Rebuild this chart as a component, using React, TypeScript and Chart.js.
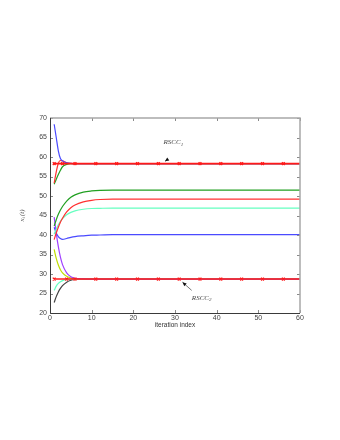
import React, { useEffect, useRef } from "react";
import { Chart, registerables } from "chart.js";
Chart.register(...registerables);

// time samples (iteration index)
const T = [1, 1.5, 2, 2.5, 3, 4, 5, 6, 8, 10, 12, 15, 20, 30, 60];

// upper group (converging to RSCC1)
const blueTop = [68.4, 65.0, 61.6, 59.6, 59.0, 58.5, 58.35, 58.3, 58.3, 58.3, 58.3, 58.3, 58.3, 58.3, 58.3];
const redTop = [53.3, 56.2, 58.4, 59.1, 59.0, 58.5, 58.35, 58.3, 58.3, 58.3, 58.3, 58.3, 58.3, 58.3, 58.3];
const greenTop = [53.0, 54.3, 55.5, 56.6, 57.5, 58.1, 58.3, 58.3, 58.3, 58.3, 58.3, 58.3, 58.3, 58.3, 58.3];

// middle group
const greenMid = [42.3, 43.9, 45.3, 46.4, 47.3, 48.7, 49.7, 50.3, 51.0, 51.3, 51.45, 51.5, 51.5, 51.5, 51.5];
const redMid = [38.8, 40.5, 42.0, 43.3, 44.3, 45.9, 47.0, 47.7, 48.5, 48.9, 49.1, 49.2, 49.2, 49.2, 49.2];
const cyanMid = [40.2, 41.5, 42.6, 43.5, 44.2, 45.2, 45.8, 46.2, 46.6, 46.8, 46.85, 46.9, 46.9, 46.9, 46.9];
const blueMid = [42.0, 40.5, 39.6, 39.1, 38.9, 39.1, 39.4, 39.6, 39.8, 39.95, 40.0, 40.1, 40.1, 40.1, 40.1];

// lower group (converging to RSCC2)
const purpleLow = [44.6, 40.5, 37.0, 34.3, 32.4, 30.3, 29.3, 28.9, 28.75, 28.7, 28.7, 28.7, 28.7, 28.7, 28.7];
const yellowLow = [36.3, 34.0, 32.3, 31.1, 30.3, 29.4, 29.0, 28.8, 28.7, 28.7, 28.7, 28.7, 28.7, 28.7, 28.7];
const cyanLow = [25.8, 26.9, 27.6, 28.0, 28.3, 28.6, 28.7, 28.7, 28.7, 28.7, 28.7, 28.7, 28.7, 28.7, 28.7];
const blackLow = [22.7, 24.2, 25.4, 26.3, 27.0, 27.9, 28.4, 28.6, 28.7, 28.7, 28.7, 28.7, 28.7, 28.7, 28.7];

// RSCC reference lines with markers
const rscc1X = [1, 3, 6, 11, 16, 21, 26, 31, 36, 41, 46, 51, 56, 60];
const rscc1Y = [58.3, 58.3, 58.3, 58.3, 58.3, 58.3, 58.3, 58.3, 58.3, 58.3, 58.3, 58.3, 58.3, 58.3];
const rscc2X = [1, 4, 6, 11, 16, 21, 26, 31, 36, 41, 46, 51, 56, 60];
const rscc2Y = [28.7, 28.7, 28.7, 28.7, 28.7, 28.7, 28.7, 28.7, 28.7, 28.7, 28.7, 28.7, 28.7, 28.7];

const xTicks = [0, 10, 20, 30, 40, 50, 60];
const yTicks = [20, 25, 30, 35, 40, 45, 50, 55, 60, 65, 70];

const xTitle = "iteration index";
const labelRSCC1 = { base: "RSCC", sub: "1", tx: 29.6, ty: 63.7, ax: 28.0, ay: 59.2, hx: 27.6, hy: 58.9 };
const labelRSCC2 = { base: "RSCC", sub: "2", tx: 36.4, ty: 23.9, ax: 34.0, ay: 25.8, hx: 31.8, hy: 27.9 };

const pts = (xs: number[], ys: number[]) => xs.map((x, i) => ({ x, y: ys[i] }));

const line = (data: number[], color: string) => ({
  data: pts(T, data),
  borderColor: color,
  backgroundColor: color,
  borderWidth: 1.2,
  pointRadius: 0,
  cubicInterpolationMode: "monotone" as const,
  fill: false,
});

const frameAndText = {
  id: "frameAndText",
  afterDraw(chart: any) {
    const { ctx, chartArea: a, scales } = chart;
    const xs = scales.x, ys = scales.y;
    ctx.save();
    // inward ticks
    ctx.strokeStyle = "#8a8a8a";
    ctx.lineWidth = 1;
    ctx.beginPath();
    xTicks.forEach((v) => {
      const px = Math.round(xs.getPixelForValue(v)) + 0.5;
      ctx.moveTo(px, a.bottom);
      ctx.lineTo(px, a.bottom - 3);
      ctx.moveTo(px, a.top);
      ctx.lineTo(px, a.top + 3);
    });
    yTicks.forEach((v) => {
      const py = Math.round(ys.getPixelForValue(v)) + 0.5;
      ctx.moveTo(a.left, py);
      ctx.lineTo(a.left + 3, py);
      ctx.moveTo(a.right, py);
      ctx.lineTo(a.right - 3, py);
    });
    ctx.stroke();
    // frame
    ctx.strokeStyle = "#a8a8a8";
    ctx.lineWidth = 1.5;
    ctx.beginPath();
    ctx.moveTo(a.left, a.top);
    ctx.lineTo(a.right, a.top);
    ctx.lineTo(a.right, a.bottom);
    ctx.stroke();
    ctx.strokeStyle = "#3a3a3a";
    ctx.lineWidth = 1;
    ctx.beginPath();
    ctx.moveTo(a.left + 0.5, a.top);
    ctx.lineTo(a.left + 0.5, a.bottom + 0.5);
    ctx.lineTo(a.right, a.bottom + 0.5);
    ctx.stroke();

    // x title
    ctx.fillStyle = "#333";
    ctx.font = "6.5px 'Liberation Sans', Arial, sans-serif";
    ctx.textAlign = "center";
    ctx.textBaseline = "middle";
    ctx.fillText(xTitle, (a.left + a.right) / 2, 325.5);

    // y title  x_i(t), rotated
    ctx.save();
    ctx.translate(22, (a.top + a.bottom) / 2);
    ctx.rotate(-Math.PI / 2);
    ctx.fillStyle = "#444";
    ctx.textBaseline = "middle";
    ctx.textAlign = "left";
    const f1 = "italic 7px 'Liberation Serif', serif";
    const f2 = "italic 5px 'Liberation Serif', serif";
    ctx.font = f1;
    const w1 = ctx.measureText("x").width;
    ctx.font = f2;
    const w2 = ctx.measureText("i").width;
    ctx.font = f1;
    const w3 = ctx.measureText("(t)").width;
    let sx = -(w1 + w2 + w3 + 1) / 2;
    ctx.fillText("x", sx, 0);
    sx += w1;
    ctx.font = f2;
    ctx.fillText("i", sx, 2);
    sx += w2 + 1;
    ctx.font = f1;
    ctx.fillText("(t)", sx, 0);
    ctx.restore();

    // annotations
    const drawLabel = (L: any) => {
      const tx = xs.getPixelForValue(L.tx), ty = ys.getPixelForValue(L.ty);
      const ax = xs.getPixelForValue(L.ax), ay = ys.getPixelForValue(L.ay);
      const hx = xs.getPixelForValue(L.hx), hy = ys.getPixelForValue(L.hy);
      ctx.fillStyle = "#444";
      ctx.textBaseline = "middle";
      ctx.textAlign = "left";
      ctx.font = "italic 7px 'Liberation Serif', serif";
      const wb = ctx.measureText(L.base).width;
      ctx.font = "italic 5px 'Liberation Serif', serif";
      const ws = ctx.measureText(L.sub).width;
      const x0 = tx - (wb + ws) / 2;
      ctx.font = "italic 7px 'Liberation Serif', serif";
      ctx.fillText(L.base, x0, ty);
      ctx.font = "italic 5px 'Liberation Serif', serif";
      ctx.fillText(L.sub, x0 + wb, ty + 2);
      // arrow line
      ctx.strokeStyle = "#555";
      ctx.lineWidth = 0.8;
      ctx.beginPath();
      ctx.moveTo(ax, ay);
      ctx.lineTo(hx, hy);
      ctx.stroke();
      // head
      const ang = Math.atan2(hy - ay, hx - ax);
      const hl = 4, hw = 1.8;
      ctx.fillStyle = "#111";
      ctx.beginPath();
      ctx.moveTo(hx, hy);
      ctx.lineTo(hx - hl * Math.cos(ang) + hw * Math.sin(ang), hy - hl * Math.sin(ang) - hw * Math.cos(ang));
      ctx.lineTo(hx - hl * Math.cos(ang) - hw * Math.sin(ang), hy - hl * Math.sin(ang) + hw * Math.cos(ang));
      ctx.closePath();
      ctx.fill();
    };
    drawLabel(labelRSCC1);
    drawLabel(labelRSCC2);
    ctx.restore();
  },
};

export default function App() {
  const ref = useRef<HTMLCanvasElement | null>(null);
  useEffect(() => {
    document.body.style.margin = "0";
    const canvas = ref.current;
    if (!canvas) return;
    const markerRadius = (ctx: any) => (ctx.dataIndex === ctx.dataset.data.length - 1 ? 0 : 2);
    const chart = new Chart(canvas, {
      type: "line",
      data: {
        datasets: [
          {
            data: pts(rscc1X, rscc1Y),
            borderColor: "#ff1a1a",
            backgroundColor: "#ff1a1a",
            borderWidth: 1.8,
            pointStyle: "crossRot",
            pointRadius: markerRadius,
            pointBorderWidth: 1.3,
            fill: false,
          },
          {
            data: pts(rscc2X, rscc2Y),
            borderColor: "#ff1a1a",
            backgroundColor: "#ff1a1a",
            borderWidth: 1.6,
            pointStyle: "crossRot",
            pointRadius: markerRadius,
            pointBorderWidth: 1.3,
            fill: false,
          },
          line(blueTop, "#4a4aff"),
          line(redTop, "#ff3030"),
          line(greenTop, "#22a022"),
          line(greenMid, "#22a022"),
          line(redMid, "#ff3030"),
          line(cyanMid, "#66ffc0"),
          line(blueMid, "#4a4aff"),
          line(purpleLow, "#a040ff"),
          line(yellowLow, "#c0dd00"),
          line(cyanLow, "#66ffc0"),
          line(blackLow, "#404040"),
        ] as any,
      },
      options: {
        responsive: false,
        animation: false,
        layout: { padding: { left: 0, right: 40, top: 118, bottom: 107 } },
        plugins: { legend: { display: false }, tooltip: { enabled: false } },
        scales: {
          x: {
            type: "linear",
            min: 0,
            max: 60,
            grid: { display: false, drawTicks: false, tickLength: 0 },
            border: { display: false },
            afterBuildTicks: (s: any) => {
              s.ticks = xTicks.map((v) => ({ value: v }));
            },
            afterFit: (s: any) => {
              s.height = 20;
            },
            ticks: {
              padding: 1,
              maxRotation: 0,
              color: "#444",
              font: { size: 7, family: "'Liberation Sans', Arial, sans-serif" },
            },
          },
          y: {
            type: "linear",
            min: 20,
            max: 70,
            grid: { display: false, drawTicks: false, tickLength: 0 },
            border: { display: false },
            afterBuildTicks: (s: any) => {
              s.ticks = yTicks.map((v) => ({ value: v }));
            },
            afterFit: (s: any) => {
              s.width = 50;
            },
            ticks: {
              padding: 3,
              color: "#444",
              font: { size: 7, family: "'Liberation Sans', Arial, sans-serif" },
            },
          },
        },
      },
      plugins: [frameAndText],
    });
    return () => chart.destroy();
  }, []);
  return (
    <div style={{ width: 340, height: 440, background: "#fff" }}>
      <canvas ref={ref} width={340} height={440} />
    </div>
  );
}
